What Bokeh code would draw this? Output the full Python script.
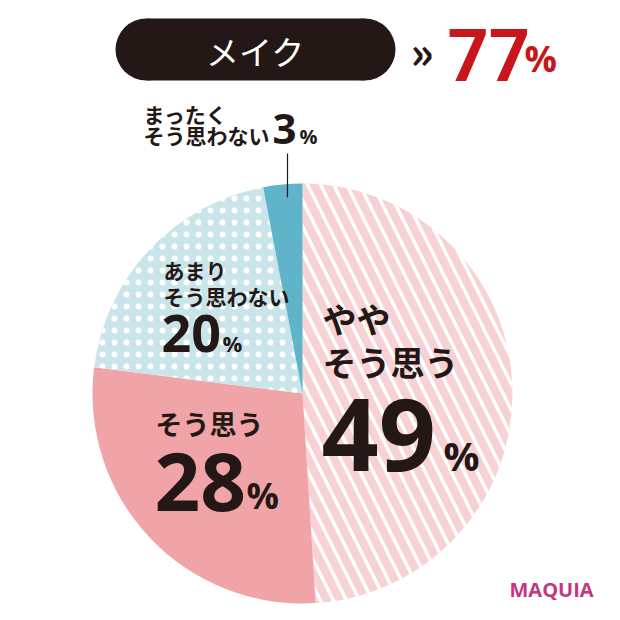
import numpy as np
from bokeh.plotting import figure
from bokeh.models import Range1d
from bokeh.core.properties import value
from bokeh.embed import file_html
from bokeh.resources import INLINE

# ---- data ----
categories = ["ややそう思う", "そう思う", "あまりそう思わない", "まったくそう思わない"]
label_lines = [["やや", "そう思う"], ["そう思う"], ["あまり", "そう思わない"], ["まったく", "そう思わない"]]
values = [49, 28, 20, 3]
headline_label = "メイク"
headline_value = 77
brand = "MAQUIA"

# ---- style ----
slice_colors = ["#f8d1d4", "#f0a4a7", "#c9e5ea", "#5fb4c9"]
slice_hatch = [
    dict(hatch_pattern="left_diagonal_line", hatch_color="white", hatch_weight=3.5, hatch_scale=26),
    dict(),
    dict(hatch_pattern="dot", hatch_color="white", hatch_weight=1, hatch_scale=12),
    dict(),
]
INK = "#231815"
RED = "#c8161d"
JP = value("Noto Sans CJK JP")
NUM = value("Open Sans")

def Y(img_y):
    return 604 - img_y

p = figure(width=604, height=604, x_range=Range1d(0, 604), y_range=Range1d(0, 604),
           output_backend="svg", toolbar_location=None, min_border=0)
p.axis.visible = False
p.grid.visible = False
p.outline_line_color = None
p.background_fill_color = "white"
p.border_fill_color = "white"

# ---- pie ----
cx, cy, r = 302, Y(393), 210
vals = np.array(values, dtype=float)
frac = vals / vals.sum()
cum = np.concatenate([[0], np.cumsum(frac)])
for i in range(len(values)):
    start = np.pi / 2 - 2 * np.pi * cum[i]
    end = np.pi / 2 - 2 * np.pi * cum[i + 1]
    p.wedge(x=cx, y=cy, radius=r, start_angle=start, end_angle=end, direction="clock",
            fill_color=slice_colors[i], line_color=None, **slice_hatch[i])

# leader line for the small slice
p.segment(x0=[287], y0=[Y(153)], x1=[287], y1=[Y(197)], line_color=INK, line_width=1.2)

# ---- headline pill ----
p.quad(left=146, right=364, bottom=Y(80), top=Y(18), fill_color=INK, line_color=None)
p.circle(x=[146, 364], y=[Y(49), Y(49)], radius=31, fill_color=INK, line_color=None)
p.text(x=[255], y=[Y(50)], text=[headline_label], text_font=JP, text_font_size="33px",
       text_color="white", text_align="center", text_baseline="middle")
p.text(x=[410], y=[Y(49)], text=["»"], text_font=JP, text_font_size="44px",
       text_font_style="bold", text_color=INK, text_align="left", text_baseline="middle")
p.text(x=[447], y=[Y(54)], text=[str(headline_value)], text_font=value("Roboto"),
       text_font_size="72px", text_font_style="bold", text_color=RED,
       text_align="left", text_baseline="middle")
p.text(x=[524], y=[Y(58)], text=["%"], text_font=NUM, text_font_size="36px",
       text_font_style="bold", text_color=RED, text_align="left", text_baseline="middle")

# ---- labels ----
# layout per slice: (x, [line centre y...], line font px, num x, num centre y, num size, pct x, pct centre y, pct px)
layout = [
    (322, [318, 361], 34, 321, 434, "75pt", 443, 455, 40),
    (155, [423], 27, 154, 481, "80px", 246, 495, 36),
    (163, [269, 295], 21, 161, 333, "52px", 222, 342, 22),
    (143, [113, 134], 21, 272, 128, "42px", 299, 136, 20),
]
for i, (lx, ys, fs, nx, ny, nfs, px, py, pfs) in enumerate(layout):
    for line, ly in zip(label_lines[i], ys):
        p.text(x=[lx], y=[Y(ly)], text=[line], text_font=JP, text_font_size=f"{fs}px",
               text_font_style="bold", text_color=INK, text_align="left", text_baseline="middle")
    p.text(x=[px], y=[Y(py)], text=["%"], text_font=NUM, text_font_size=f"{pfs}px",
           text_font_style="bold", text_color=INK, text_align="left", text_baseline="middle")

# brand
p.text(x=[509], y=[Y(589)], text=[brand], text_font=NUM, text_font_size="20px",
       text_font_style="bold", text_color="#c4367f", text_align="left", text_baseline="middle")

# big numbers last
for i in [3, 2, 1, 0]:
    lx, ys, fs, nx, ny, nfs, px, py, pfs = layout[i]
    p.text(x=[nx], y=[Y(ny)], text=[str(values[i])], text_font=NUM, text_font_size=nfs,
           text_font_style="bold", text_color=INK, text_align="left", text_baseline="middle")

open("out.html", "w").write(file_html(p, INLINE))
